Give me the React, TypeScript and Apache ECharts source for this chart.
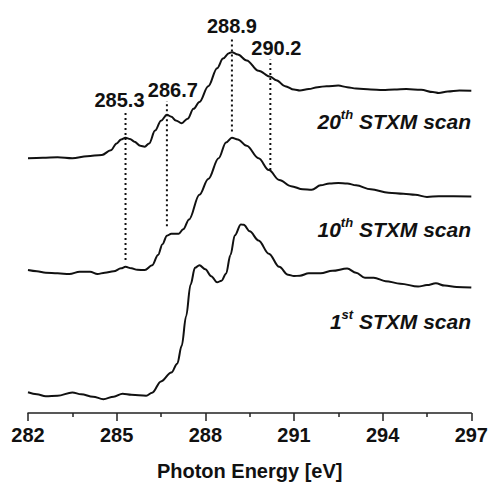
import React, { useEffect, useRef } from "react";
import * as echarts from "echarts";

// Photon energy ticks (eV)
const energyMin = 282;
const energyMax = 297;
const energyStep = 3;

// C 1s NEXAFS spectra, offset vertically (arbitrary units)
const scan20Energy = [282.0, 282.5, 283.0, 283.5, 284.0, 284.5, 284.8, 285.0, 285.15, 285.3, 285.45, 285.6, 285.8, 285.95, 286.1, 286.3, 286.5, 286.7, 286.85, 287.0, 287.2, 287.4, 287.6, 287.8, 288.1, 288.4, 288.6, 288.8, 288.9, 289.1, 289.4, 289.8, 290.2, 290.4, 290.7, 291.0, 291.2, 291.5, 291.8, 292.1, 292.5, 292.8, 293.1, 293.6, 294.0, 294.4, 294.8, 295.3, 295.7, 295.9, 296.2, 296.6, 297.0];
const scan20Signal = [64.5, 64.63, 64.75, 64.5, 65.0, 65.33, 66.5, 68.25, 69.25, 69.68, 69.38, 68.68, 67.63, 67.43, 68.25, 71.5, 74.0, 75.5, 75.0, 74.08, 73.38, 74.5, 77.0, 78.75, 82.75, 87.3, 89.75, 91.1, 91.33, 90.75, 89.25, 86.63, 85.13, 84.25, 82.75, 81.88, 81.63, 82.0, 82.5, 82.75, 82.88, 82.5, 82.13, 81.88, 81.75, 81.88, 82.0, 81.83, 81.25, 81.0, 81.38, 81.63, 81.58];

const scan10Energy = [282.0, 282.3, 282.6, 283.0, 283.4, 283.75, 284.1, 284.35, 284.6, 284.9, 285.15, 285.3, 285.5, 285.7, 285.95, 286.2, 286.4, 286.55, 286.7, 286.85, 287.1, 287.25, 287.45, 287.8, 288.1, 288.45, 288.7, 288.9, 289.1, 289.4, 289.8, 290.15, 290.5, 290.9, 291.3, 291.6, 291.9, 292.2, 292.5, 292.8, 293.1, 293.6, 294.2, 294.7, 295.1, 295.5, 295.9, 296.4, 297.0];
const scan10Signal = [36.18, 35.88, 35.5, 35.38, 35.18, 35.75, 35.75, 35.18, 35.5, 35.88, 36.63, 37.0, 36.63, 36.25, 36.18, 37.38, 40.0, 42.75, 44.88, 45.38, 45.38, 46.5, 49.0, 55.25, 59.25, 64.5, 68.5, 69.68, 69.25, 67.63, 64.5, 61.5, 59.0, 57.43, 56.63, 56.5, 57.63, 58.13, 58.25, 58.13, 57.63, 56.63, 55.75, 55.5, 55.25, 54.68, 54.88, 54.88, 54.83];

const scan1Energy = [282.0, 282.3, 282.6, 283.0, 283.5, 283.8, 284.2, 284.55, 284.9, 285.2, 285.5, 286.0, 286.2, 286.5, 286.85, 287.05, 287.2, 287.35, 287.5, 287.65, 287.8, 288.0, 288.2, 288.4, 288.55, 288.7, 288.85, 289.0, 289.2, 289.3, 289.5, 289.8, 290.15, 290.5, 290.8, 291.0, 291.2, 291.5, 291.9, 292.3, 292.8, 293.1, 293.4, 293.7, 294.1, 294.6, 295.2, 295.5, 295.8, 296.1, 296.5, 297.0];
const scan1Signal = [5.25, 4.75, 4.25, 4.38, 5.2, 4.75, 4.13, 3.5, 4.13, 4.88, 4.63, 4.38, 5.13, 8.0, 10.25, 12.5, 17.0, 24.5, 32.5, 36.75, 37.43, 36.38, 34.63, 33.08, 33.5, 35.25, 40.0, 45.0, 47.75, 47.63, 46.0, 43.68, 40.33, 37.0, 35.0, 34.68, 34.75, 35.38, 35.38, 36.0, 36.58, 35.5, 34.25, 34.25, 33.38, 32.75, 32.0, 32.38, 32.83, 32.25, 31.88, 31.75];

// Resonance markers: energy, and vertical extent of the dotted guide
const peakEnergy = [285.3, 286.7, 288.9, 290.2];
const peakGuideLow = [38.75, 47.25, 71.25, 61.5];
const peakGuideHigh = [76.5, 79.0, 95.25, 89.5];

// Scan captions
const scanOrdinal = ["20", "10", "1"];
const scanSuffix = ["th", "th", "st"];

// Horizontal nudges for the marker labels (px)
const peakLabelShift = [-6, 6, 0, 6];
// Caption centres (px from the top of the chart)
const captionTop = [120, 228, 320];

const FONT = "'Liberation Sans', Arial, sans-serif";

const zip = (xs: number[], ys: number[]) => xs.map((x, i) => [x, ys[i]]);

export default function App() {
  const ref = useRef<HTMLDivElement>(null);

  useEffect(() => {
    if (!ref.current) return;
    const chart = echarts.init(ref.current, undefined, { renderer: "svg" });

    const spectrumStyle = {
      type: "line" as const,
      showSymbol: false,
      smooth: 0.35,
      smoothMonotone: "x" as const,
      lineStyle: { color: "#111", width: 2 },
      silent: true,
      z: 3,
    };

    const spectra = [
      zip(scan20Energy, scan20Signal),
      zip(scan10Energy, scan10Signal),
      zip(scan1Energy, scan1Signal),
    ].map((data) => ({ ...spectrumStyle, data }));

    const guides = peakEnergy.map((e, i) => ({
      type: "line" as const,
      data: [
        { value: [e, peakGuideLow[i]] },
        {
          value: [e, peakGuideHigh[i]],
          label: {
            show: true,
            position: "top" as const,
            distance: 1,
            offset: [peakLabelShift[i], 0],
            formatter: e.toFixed(1),
            fontFamily: FONT,
            fontWeight: "bold" as const,
            fontSize: 20,
            color: "#111",
          },
        },
      ],
      showSymbol: true,
      symbol: "circle",
      symbolSize: 0,
      itemStyle: { color: "rgba(0,0,0,0)" },
      label: { show: false },
      lineStyle: { color: "#111", width: 2, type: [2, 3] as any },
      silent: true,
      z: 2,
    }));

    const captions = scanOrdinal.map((n, i) => ({
      type: "text" as const,
      right: 20,
      top: captionTop[i] - 12,
      style: {
        text: `{n|${n}}{s|${scanSuffix[i]}}{t| STXM scan}`,
        fill: "#111",
        rich: {
          n: { fontFamily: FONT, fontSize: 21, fontWeight: "bold", fontStyle: "italic", lineHeight: 24, verticalAlign: "bottom", fill: "#111" },
          s: { fontFamily: FONT, fontSize: 13, fontWeight: "bold", fontStyle: "italic", lineHeight: 12, verticalAlign: "top", fill: "#111" },
          t: { fontFamily: FONT, fontSize: 21, fontWeight: "bold", fontStyle: "italic", lineHeight: 24, verticalAlign: "bottom", fill: "#111" },
        },
      },
    }));

    chart.setOption({
      animation: false,
      backgroundColor: "#fff",
      grid: { left: 28, right: 17, top: 18, bottom: 68 },
      xAxis: {
        type: "value",
        min: energyMin,
        max: energyMax,
        interval: energyStep,
        name: "Photon Energy [eV]",
        nameLocation: "middle",
        nameGap: 48,
        nameTextStyle: { fontFamily: FONT, fontWeight: "bold", fontSize: 20, color: "#111" },
        axisLine: { show: true, lineStyle: { color: "#222", width: 1.5 } },
        axisTick: { show: true, length: 8, lineStyle: { color: "#222", width: 1.5 } },
        minorTick: { show: true, splitNumber: 2, length: 4, lineStyle: { color: "#222", width: 1.5 } },
        splitLine: { show: false },
        axisLabel: { fontFamily: FONT, fontWeight: "bold", fontSize: 20, color: "#111", margin: 12 },
      },
      yAxis: {
        type: "value",
        min: 0,
        max: 100,
        show: false,
        splitLine: { show: false },
      },
      series: [...spectra, ...guides],
      graphic: captions,
    });

    return () => chart.dispose();
  }, []);

  return (
    <div
      ref={ref}
      style={{ position: "fixed", left: 0, top: 0, width: 491, height: 486, background: "#fff" }}
    />
  );
}
